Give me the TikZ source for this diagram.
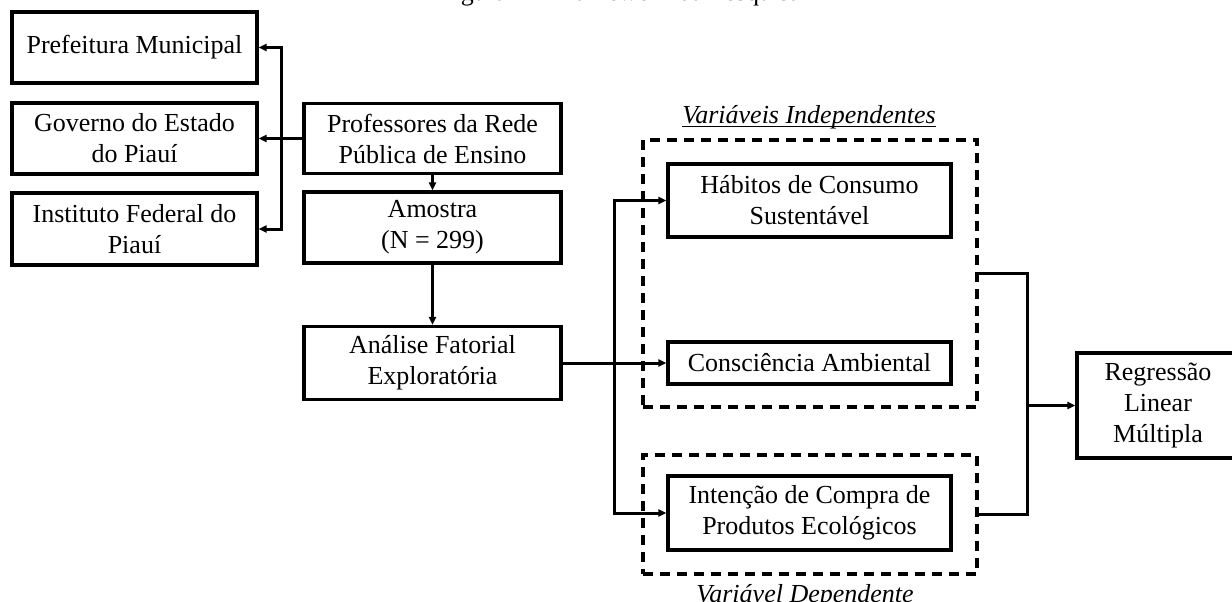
\documentclass[tikz,border=0pt]{standalone}
\usepackage{fontspec}
\setmainfont{Liberation Serif}
\usetikzlibrary{arrows.meta}
\begin{document}
\begin{tikzpicture}[x=1pt,y=-1pt,
  every node/.style={font=\fontsize{26}{31}\selectfont},
  box/.style={draw, line width=3.2pt, align=center, inner sep=0pt},
  dbox/.style={draw, line width=3.2pt, dash pattern=on 10pt off 7pt, inner sep=0pt},
  con/.style={line width=3pt},
  arr/.style={con, -{Triangle[length=8pt,width=7pt]}},
  arrb/.style={con, {Triangle[length=8pt,width=7pt]}-{Triangle[length=8pt,width=7pt]}},
  lbl/.style={inner sep=0pt, anchor=base, font=\fontsize{26}{31}\selectfont\itshape}
]
\useasboundingbox (0,0) rectangle (1232,602);
\clip (0,0) rectangle (1232,602);

% partially visible title
\node[inner sep=0pt, anchor=base] (title) at (620,0.5) {Figura 1 – Framework da Pesquisa};

% left column
\node[box, minimum width=245pt, minimum height=71pt] (pref) at (134.5,47.5) {Prefeitura Municipal};
\node[box, minimum width=245pt, minimum height=71pt] (gov) at (134.5,138.5) {Governo do Estado\\do Piauí};
\node[box, minimum width=245pt, minimum height=72pt] (inst) at (134.5,229) {Instituto Federal do\\Piauí};

% middle column
\node[box, minimum width=257pt, minimum height=70pt] (prof) at (432.5,138.5) {Professores da Rede\\Pública de Ensino};
\node[box, minimum width=257pt, minimum height=71pt] (amos) at (432.5,227.5) {Amostra\\(N = 299)};
\node[box, minimum width=257pt, minimum height=73pt] (anal) at (432.5,363) {Análise Fatorial\\Exploratória};

% dashed groups
\node[dbox, minimum width=334pt, minimum height=267pt] (g1) at (810,273.5) {};
\node[dbox, minimum width=334pt, minimum height=119pt] (g2) at (810,514.5) {};

\node[box, minimum width=283pt, minimum height=73pt] (hab) at (809.5,200.5) {Hábitos de Consumo\\Sustentável};
\node[box, minimum width=283pt, minimum height=42pt] (cons) at (809.5,363) {Consciência Ambiental};
\node[box, minimum width=283pt, minimum height=74pt] (int) at (809.5,513) {Intenção de Compra de\\Produtos Ecológicos};

\node[lbl] (vi) at (809,123) {Variáveis Independentes};
\draw[line width=1.3pt] ([yshift=-3.5pt]vi.base west) -- ([yshift=-3.5pt]vi.base east);
\node[lbl] (vd) at (805,602) {Variável Dependente};

% right box
\node[box, minimum width=162pt, minimum height=105pt] (reg) at (1158,405.5) {Regressão\\Linear\\Múltipla};

% connectors left
\coordinate (jx) at (281,0);
\draw[arrb] (pref.east) -- (jx |- pref.east) -- (jx |- inst.east) -- (inst.east);
\draw[arr] (prof.west) -- (gov.east);
\draw[arr] (prof.south) -- (amos.north);
\draw[arr] (amos.south) -- (anal.north);

% connectors to variables
\coordinate (sx) at (614,0);
\draw[arr] (anal.east) -- (cons.west);
\draw[arrb] (hab.west) -- (sx |- hab.west) -- (sx |- int.west) -- (int.west);

% connectors to regression
\coordinate (rx) at (1027,0);
\draw[con] (g1.east) -- (rx |- g1.east) -- (rx |- g2.east) -- (g2.east);
\draw[arr] (rx |- reg.west) -- (reg.west);
\end{tikzpicture}
\end{document}
